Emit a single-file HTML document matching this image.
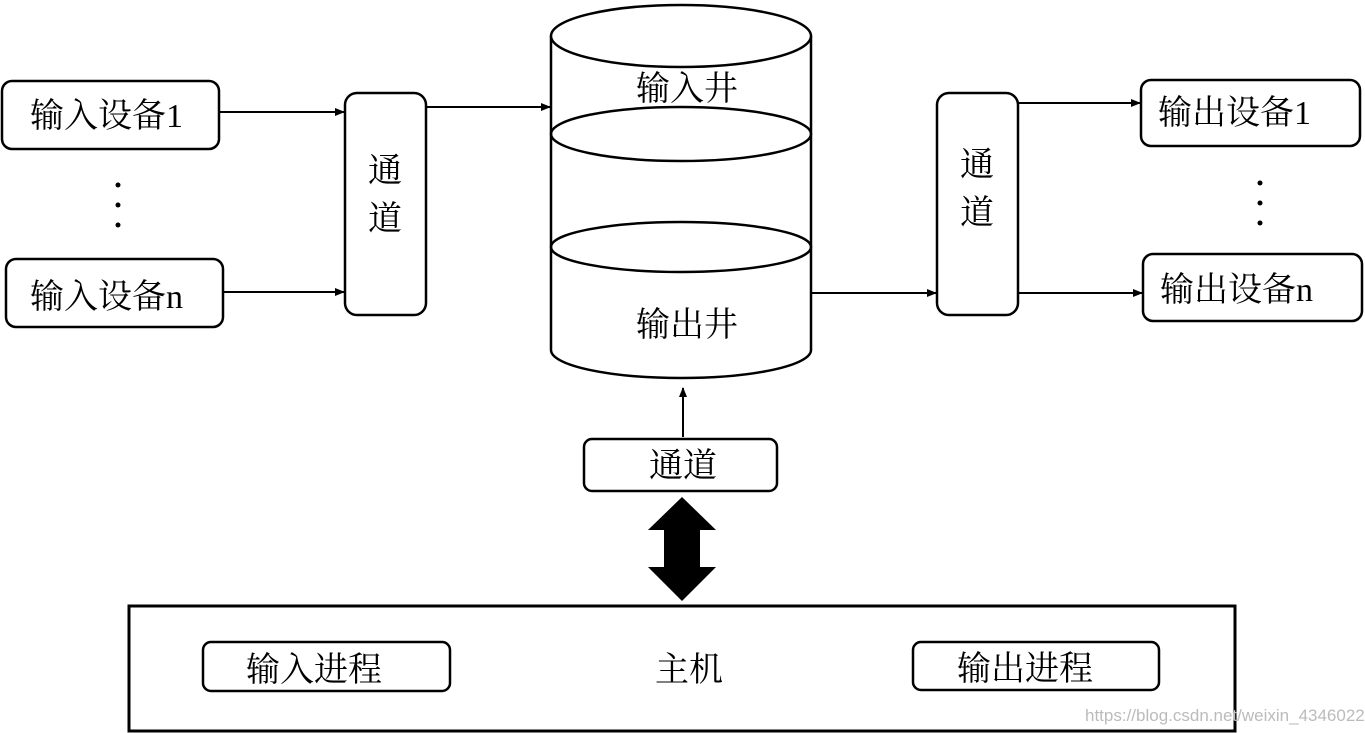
<!DOCTYPE html>
<html><head><meta charset="utf-8"><style>
html,body{margin:0;padding:0;background:#fff;}
svg{display:block;}
text{font-family:"Liberation Serif","Noto Serif CJK SC",serif;fill:#000;}
</style></head><body>
<svg width="1365" height="733" viewBox="0 0 1365 733" xmlns="http://www.w3.org/2000/svg">
<defs>
<marker id="ah" markerWidth="10" markerHeight="8" refX="9" refY="4" orient="auto" markerUnits="userSpaceOnUse">
<path d="M0,0 L10,4 L0,8 z" fill="#000"/>
</marker>
</defs>
<g fill="none" stroke="#000" stroke-width="2.5">
<rect x="2" y="81" width="217" height="68" rx="10"/>
<rect x="6" y="259" width="217" height="68" rx="10"/>
<rect x="345" y="93" width="81" height="222" rx="12"/>
<rect x="937" y="93" width="81" height="222" rx="12"/>
<rect x="1141" y="80" width="219" height="66" rx="10"/>
<rect x="1143" y="254" width="219" height="67" rx="10"/>
<rect x="584" y="439" width="193" height="52" rx="8"/>
<rect x="129" y="606" width="1106" height="125" stroke-width="3"/>
<rect x="203" y="642" width="247" height="49" rx="8"/>
<rect x="913" y="642" width="246" height="48" rx="8"/>
<!-- cylinder -->
<path d="M551,36 L551,350 A130,28 0 0 0 811,350 L811,36"/>
<ellipse cx="681" cy="36" rx="130" ry="31" fill="#fff"/>
<ellipse cx="681" cy="134" rx="130" ry="27"/>
<ellipse cx="681" cy="247" rx="130" ry="25"/>
</g>
<g stroke="#000" stroke-width="2" marker-end="url(#ah)">
<line x1="219" y1="112" x2="344" y2="112"/>
<line x1="223" y1="292" x2="344" y2="292"/>
<line x1="426" y1="107" x2="550" y2="107"/>
<line x1="811" y1="293" x2="936" y2="293"/>
<line x1="1018" y1="103" x2="1140" y2="103"/>
<line x1="1018" y1="293" x2="1142" y2="293"/>
<line x1="683" y1="437" x2="683" y2="388"/>
</g>
<path d="M682,497 L716,530 L700,530 L700,567 L716,567 L682,601 L648,567 L664,567 L664,530 L648,530 Z" fill="#000"/>
<g fill="#000">
<circle cx="118" cy="185" r="2.5"/><circle cx="118" cy="205" r="2.5"/><circle cx="118" cy="225" r="2.5"/>
<circle cx="1260" cy="183" r="2.5"/><circle cx="1260" cy="203" r="2.5"/><circle cx="1260" cy="223" r="2.5"/>
</g>
<g font-size="34">
<text x="30" y="127">输入设备1</text>
<text x="30" y="308">输入设备n</text>
<text x="1158" y="124">输出设备1</text>
<text x="1160" y="301">输出设备n</text>
<text x="368" y="182">通</text>
<text x="368" y="230">道</text>
<text x="960" y="176">通</text>
<text x="960" y="224">道</text>
<text x="636" y="100">输入井</text>
<text x="636" y="336">输出井</text>
<text x="649" y="477">通道</text>
<text x="246" y="681">输入进程</text>
<text x="655" y="681">主机</text>
<text x="957" y="680">输出进程</text>
</g>
<text x="1085" y="721" font-size="17" style="font-family:'Liberation Sans',sans-serif;fill:#bbb">https://blog.csdn.net/weixin_43460224</text>
</svg>
</body></html>
